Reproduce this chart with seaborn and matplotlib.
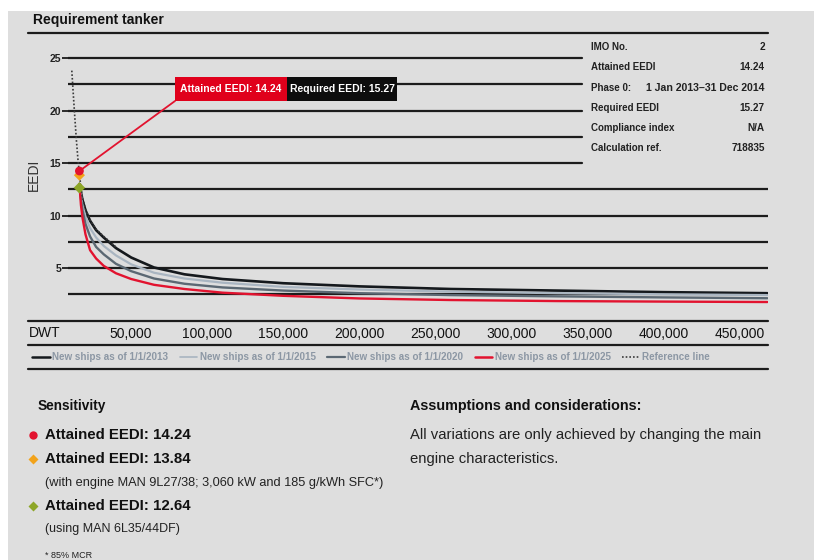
import numpy as np
import pandas as pd
import seaborn as sns
import matplotlib
matplotlib.use("Agg")
import matplotlib.pyplot as plt
from matplotlib import font_manager
from matplotlib.lines import Line2D
from matplotlib.patches import Rectangle

# values
dwt = [16000, 17000, 18000, 20000, 23000, 27000, 32000, 40000, 50000, 65000,
       85000, 110000, 150000, 200000, 260000, 330000, 400000, 468000]
eedi_2013 = [13.0, 12.2, 11.5, 10.5, 9.5, 8.6, 7.9, 6.9, 6.0, 5.05,
             4.4, 3.95, 3.55, 3.25, 3.0, 2.85, 2.7, 2.6]
eedi_2015 = [13.0, 11.9, 11.0, 9.9, 8.8, 7.9, 7.1, 6.2, 5.35, 4.55,
             4.0, 3.6, 3.2, 2.95, 2.75, 2.6, 2.5, 2.42]
eedi_2020 = [13.0, 11.6, 10.5, 9.2, 8.0, 7.0, 6.3, 5.4, 4.7, 4.0,
             3.5, 3.15, 2.85, 2.6, 2.42, 2.3, 2.2, 2.12]
eedi_2025 = [13.0, 11.0, 9.8, 8.2, 6.7, 5.9, 5.2, 4.5, 3.95, 3.4,
             3.0, 2.65, 2.35, 2.1, 1.95, 1.85, 1.8, 1.76]

ref_dwt = [11000, 12000, 13000, 14000, 15000, 16000, 17000, 18000, 20000,
           23000, 27000, 32000, 40000]
ref_eedi = [23.8, 21.5, 19.3, 17.2, 15.4, 13.9, 12.7, 11.7, 10.6, 9.6, 8.7, 8.0, 7.0]

ship_dwt = 16000
attained = [14.24, 13.84, 12.64]
required = 15.27

x_ticks = [50000, 100000, 150000, 200000, 250000, 300000, 350000, 400000, 450000]
y_ticks = [5, 10, 15, 20, 25]
grid_levels = [2.5, 5, 7.5, 10, 12.5, 15, 17.5, 20, 22.5, 25]

series_labels = ["New ships as of 1/1/2013", "New ships as of 1/1/2015",
                 "New ships as of 1/1/2020", "New ships as of 1/1/2025", "Reference line"]

info_labels = ["IMO No.", "Attained EEDI", "Phase 0:", "Required EEDI",
               "Compliance index", "Calculation ref."]
info_values = ["2", "14.24", "1 Jan 2013\u201331 Dec 2014", "15.27", "N/A", "718835"]

RED = "#e2132f"
ORANGE = "#f2a31b"
GREEN = "#8da628"
DARK = "#1c1c1c"
BG = "#dedede"

sns.set_theme(style="white")
plt.rcParams["font.family"] = ["Liberation Sans", "DejaVu Sans"]
names = {f.name for f in font_manager.fontManager.ttflist}
narrow = "Liberation Sans Narrow" if "Liberation Sans Narrow" in names else "Liberation Sans"

W, H = 814, 560
fig = plt.figure(figsize=(W / 100, H / 100), dpi=100)
fig.patch.set_facecolor("white")
fig.patches.append(Rectangle((8 / W, 0), 1, 1 - 11 / H, transform=fig.transFigure,
                             facecolor=BG, edgecolor="none", zorder=-10))


def fx(x):
    return x / W


def fy(y):
    return 1 - y / H


def hline(y, x0=28, x1=768, lw=1.6):
    fig.add_artist(Line2D([fx(x0), fx(x1)], [fy(y), fy(y)], color=DARK, lw=lw))


ax = fig.add_axes([fx(68), fy(320.5), 700 / W, 275.5 / H])
ax.set_facecolor("none")
for s in ax.spines.values():
    s.set_visible(False)

for g in grid_levels:
    ax.axhline(g, xmin=0, xmax=1.0 if g <= 12.5 else (582 - 68) / 700,
               color=DARK, lw=1.6, zorder=1)

sns.lineplot(x=dwt, y=eedi_2013, ax=ax, color="#15191d", lw=1.9, zorder=3)
sns.lineplot(x=dwt, y=eedi_2015, ax=ax, color="#a9b5c1", lw=1.6, zorder=3)
sns.lineplot(x=dwt, y=eedi_2020, ax=ax, color="#5b6873", lw=1.7, zorder=3)
sns.lineplot(x=dwt, y=eedi_2025, ax=ax, color=RED, lw=1.7, zorder=3)
sns.lineplot(x=ref_dwt, y=ref_eedi, ax=ax, color="#3a3a3a", lw=1.2,
             linestyle=(0, (1, 1.2)), zorder=4)

# sensitivity points
pts = pd.DataFrame({"dwt": [ship_dwt] * 3, "eedi": attained})
ax.annotate("", xy=(ship_dwt, attained[0]), xytext=(175, H - 101),
            textcoords="figure pixels",
            arrowprops=dict(arrowstyle="-", color=RED, lw=1.3, shrinkA=0, shrinkB=0),
            zorder=5)
sns.scatterplot(data=pts.iloc[[2]], x="dwt", y="eedi", ax=ax, color=GREEN,
                marker="D", s=34, edgecolor="none", zorder=6)
sns.scatterplot(data=pts.iloc[[1]], x="dwt", y="eedi", ax=ax, color=ORANGE,
                marker="D", s=32, edgecolor="none", zorder=6)
sns.scatterplot(data=pts.iloc[[0]], x="dwt", y="eedi", ax=ax, color=RED,
                marker="o", s=40, edgecolor="none", zorder=7)

ax.set_xlim(8500, 468400)
ax.set_ylim(0, 26.24)
ax.set_xticks(x_ticks)
ax.set_xticklabels([f"{v:,}" for v in x_ticks], fontsize=10, color="#111111")
ax.tick_params(axis="x", length=0, pad=5)
ax.set_yticks(y_ticks)
ax.set_yticklabels([str(v) for v in y_ticks], fontsize=7.5, fontweight="bold",
                   family=narrow, color="#222222")
ax.tick_params(axis="y", length=4, width=1.3, pad=1, color=DARK, left=True)
ax.set_xlabel("")
ax.set_ylabel("EEDI", fontsize=10, color="#333333")
ax.yaxis.set_label_coords(-0.039, 0.528)

# callout boxes
fig.patches.append(Rectangle((fx(175), fy(101)), 112 / W, 24 / H, transform=fig.transFigure,
                             facecolor="#e0001b", edgecolor="none", zorder=8))
fig.patches.append(Rectangle((fx(287), fy(101)), 110 / W, 24 / H, transform=fig.transFigure,
                             facecolor="#0d0d0d", edgecolor="none", zorder=8))
fig.text(fx(231), fy(89), f"Attained EEDI: {attained[0]:.2f}", color="white", fontsize=7.5,
         fontweight="bold", family=narrow, ha="center", va="center", zorder=9)
fig.text(fx(342), fy(89), f"Required EEDI: {required:.2f}", color="white", fontsize=7.5,
         fontweight="bold", family=narrow, ha="center", va="center", zorder=9)

# frame lines and header
fig.text(fx(33), fy(20), "Requirement tanker", fontsize=10, fontweight="bold",
         color="#111111", va="center")
hline(33)
hline(321)
hline(345)
hline(369)
fig.text(fx(29), fy(333), "DWT", fontsize=10, color="#111111", va="center")

# info table
rows_y = [47, 67, 88, 108, 128, 148]
for lab, val, y in zip(info_labels, info_values, rows_y):
    fig.text(fx(591), fy(y), lab, fontsize=7, fontweight="bold", family=narrow,
             color="#222222", va="center")
    fig.text(fx(765), fy(y), val, fontsize=7.6 if len(val) > 10 else 7.2, fontweight="bold",
             family=narrow, color="#222222", va="center", ha="right")

# legend row
handles = [Line2D([], [], color="#15191d", lw=1.8),
           Line2D([], [], color="#a9b5c1", lw=1.2),
           Line2D([], [], color="#5b6873", lw=1.6),
           Line2D([], [], color=RED, lw=1.8),
           Line2D([], [], color="#3a3a3a", lw=1.2, linestyle=(0, (1, 1.2)))]
leg = ax.legend(handles, series_labels, loc="center left",
                bbox_to_anchor=(fx(32), fy(357)), bbox_transform=fig.transFigure,
                ncol=5, frameon=False, handlelength=1.8, handletextpad=0.25,
                columnspacing=1.15, borderpad=0, borderaxespad=0,
                prop={"family": narrow, "weight": "bold", "size": 7.1})
for t in leg.get_texts():
    t.set_color("#8c97a4")

# lower section
fig.text(fx(38), fy(406), "Sensitivity", fontsize=9.8, fontweight="bold", family=narrow,
         color="#111111", va="center")
fig.text(fx(410), fy(406), "Assumptions and considerations:", fontsize=10.4,
         fontweight="bold", family=narrow, color="#111111", va="center")

bullets = [("o", RED, 435), ("D", ORANGE, 459), ("D", GREEN, 506)]
for (mk, col, y), val in zip(bullets, attained):
    fig.add_artist(Line2D([fx(33)], [fy(y)], marker=mk, color=col, markersize=5 if mk == "D" else 6,
                          markeredgecolor="none", lw=0))
    fig.text(fx(45), fy(y), f"Attained EEDI: {val:.2f}", fontsize=10.8, fontweight="bold",
             color="#111111", va="center")
fig.text(fx(45), fy(483), "(with engine MAN 9L27/38; 3,060 kW and 185 g/kWh SFC*)",
         fontsize=9.2, color="#222222", va="center")
fig.text(fx(45), fy(529), "(using MAN 6L35/44DF)", fontsize=9, color="#222222", va="center")
fig.text(fx(45), fy(555), "* 85% MCR", fontsize=6.5, color="#222222", va="center")

fig.text(fx(410), fy(435), "All variations are only achieved by changing the main",
         fontsize=10.7, color="#222222", va="center")
fig.text(fx(410), fy(459), "engine characteristics.", fontsize=10.7, color="#222222", va="center")

fig.savefig("out.png", dpi=100, facecolor=fig.get_facecolor())
